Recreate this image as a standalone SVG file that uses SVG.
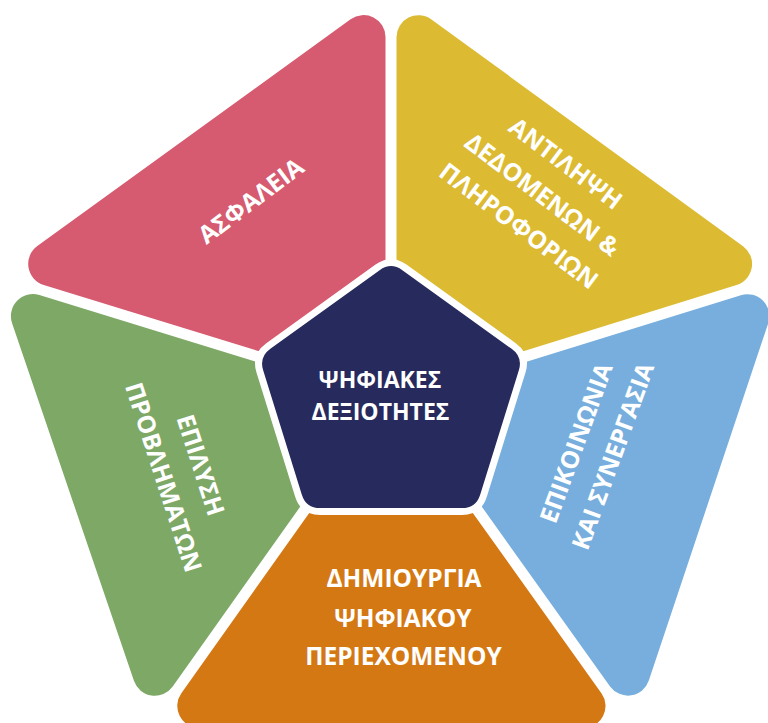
<svg xmlns="http://www.w3.org/2000/svg" width="768" height="723" viewBox="0 0 768 723">
<style>
.lbl{font-family:"Open Sans","DejaVu Sans",sans-serif;font-weight:700;fill:#ffffff;text-anchor:middle}
.big{font-size:24.5px}
.mid{font-size:23px}
.hub{fill:#262A5C;stroke:#ffffff;stroke-width:14;stroke-linejoin:round;paint-order:stroke}
</style>
<rect x="0" y="0" width="768" height="723" fill="#ffffff"/>
<g id="connectors"></g>
<g id="asfaleia">
<path d="M385.5,292 L385.5,37.07 A22,22 0 0 0 350.6,19.25 L37.31,246.09 A22,22 0 0 0 43.74,284.94 L289.29,360.57 Z" fill="#D65B70"/>
<text class="lbl big" transform="translate(251,201) rotate(-37)" y="8.5">ΑΣΦΑΛΕΙΑ</text>
</g>
<g id="antilipsi">
<path d="M396.5,292 L396.5,37.22 A22,22 0 0 1 431.44,19.43 L743.01,246.16 A22,22 0 0 1 736.58,284.95 L492.72,360.64 Z" fill="#DCBA31"/>
<g class="lbl big" transform="translate(542.5,194.4) rotate(37)">
<text y="-30">ΑΝΤΙΛΗΨΗ</text>
<text y="9">ΔΕΔΟΜΕΝΩΝ &amp;</text>
<text y="48">ΠΛΗΡΟΦΟΡΙΩΝ</text>
</g>
</g>
<g id="epikoinonia">
<path d="M495.98,371.14 L740.86,295.15 A22,22 0 0 1 768.25,323.14 L648.83,680.6 A22,22 0 0 1 610.07,686.41 L463.05,480.39 Z" fill="#77AEDD"/>
<g class="lbl big" transform="translate(594.7,449.5) rotate(-70)">
<text y="-11">ΕΠΙΚΟΙΝΩΝΙΑ</text>
<text y="28">ΚΑΙ ΣΥΝΕΡΓΑΣΙΑ</text>
</g>
</g>
<g id="dimiourgia">
<path d="M327.9,486.7 L181.33,693.27 A22,22 0 0 0 199.28,728 L583.51,728 A22,22 0 0 0 601.42,693.22 L454.09,486.77 Z" fill="#D47813"/>
<text class="lbl big" x="404" y="587">ΔΗΜΙΟΥΡΓΙΑ</text>
<text class="lbl big" x="403" y="627">ΨΗΦΙΑΚΟΥ</text>
<text class="lbl big" x="403.5" y="665">ΠΕΡΙΕΧΟΜΕΝΟΥ</text>
</g>
<g id="epilysi">
<path d="M286.05,371.09 L39.38,295.11 A22,22 0 0 0 12.09,323.23 L133.93,680.85 A22,22 0 0 0 172.7,686.48 L318.9,480.3 Z" fill="#7EA866"/>
<g class="lbl big" transform="translate(182,471.2) rotate(72)">
<text y="-11">ΕΠΙΛΥΣΗ</text>
<text y="28">ΠΡΟΒΛΗΜΑΤΩΝ</text>
</g>
</g>
<g id="psifiakes">
<path class="hub" d="M379.63,270.18 Q391,262 402.37,270.18 L511.63,348.82 Q523,357 518.84,370.37 L480.16,494.63 Q476,508 462,508 L320,508 Q306,508 301.84,494.63 L263.16,370.37 Q259,357 270.37,348.82 Z"/>
<text class="lbl mid" x="380" y="388">ΨΗΦΙΑΚΕΣ</text>
<text class="lbl mid" x="380.5" y="420">ΔΕΞΙΟΤΗΤΕΣ</text>
</g>
</svg>
